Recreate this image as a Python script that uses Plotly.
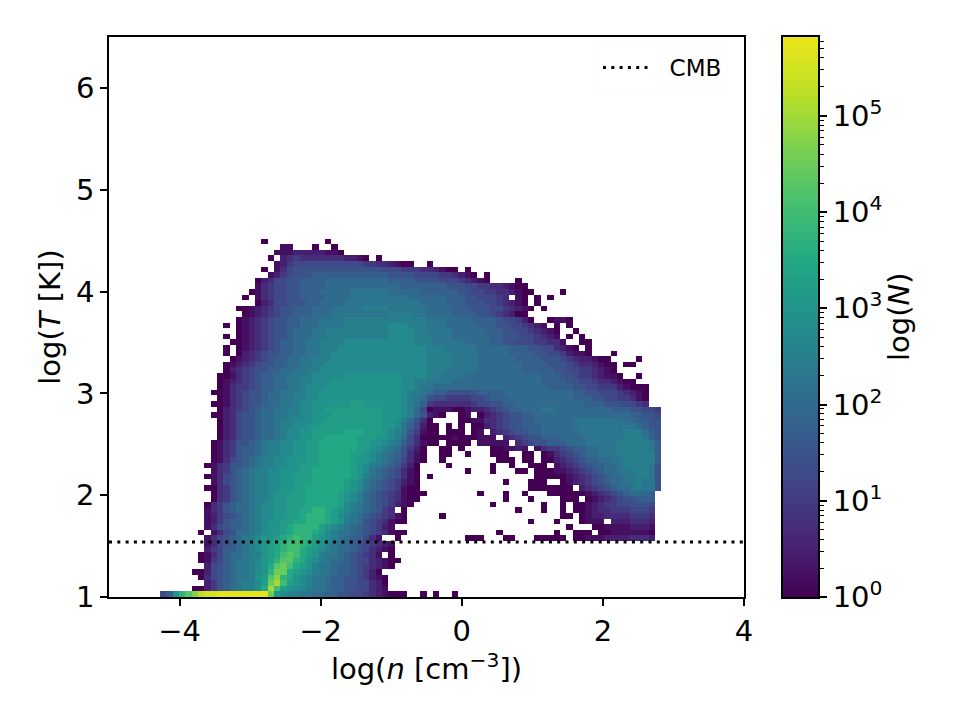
import numpy as np
import plotly.graph_objects as go

# Density-temperature histogram: 100 x 100 bins over these ranges
X_RANGE = [-5, 4]
Y_RANGE = [1, 6.5]
N_BINS = 100
CMB_LOG_T = 1.54
LOG_N_MAX = 5.82

X_TICKS = [-4, -2, 0, 2, 4]
Y_TICKS = [1, 2, 3, 4, 5, 6]
CBAR_DECADES = [0, 1, 2, 3, 4, 5]

VIRIDIS = ["#440154", "#482475", "#414487", "#355f8d", "#2a788e", "#21918c",
           "#22a884", "#44bf70", "#7ad151", "#bddf26", "#ece51b"]

# One letter per bin: log10(count) in quarter-dex steps, blank = empty bin.
# Rows run from high to low temperature, "|" splits every ten density bins.
LEVEL_CODES = "0123456789abcdefghijklmn"
LOG_COUNT_ROWS = [
    "||    0|    0",
    "||       11|  0  0",
    "||      1112|2222110",
    "||     0 234|3333333221|0 0",
    "||      1245|5555555555|44332100  |0",
    "||    0 1356|6666666666|6665554443|32100 0",
    "||     12456|6677777777|7777666655|55443210 0",
    "||   0235566|7777888888|8888777766|6655543210|    0",
    "||   1345566|7777888888|8888887777|7776665544|332100",
    "||  01345566|7778888899|9999888887|7777766554|4332100| 0",
    "|| 0 1345566|7777888899|9999999888|8887776655|543 10 0 0",
    "||   0235566|6778888999|9999999998|8887776665|543210 0",
    "||0012345667|7788899999|aaaa999999|8888777666|5543210 0",
    "|| 012345667|7788899999|9999aaaa99|8888777766|543200",
    "||0123456677|8889999aaa|aaaaaaaaaa|9998888777|7655420  0|110",
    "|        0 |0123456677|8889999aaa|aaaabbbaaa|9998888877|766554321 |0 0",
    "||0123456678|8899aaaaaa|aaaabbbbaa|9999888887|7766554321|0  0",
    "|        0 |0123456678|8899aaaaaa|aaaabbbbaa|a999888888|7766655432|1 0 0",
    "|         0|0123456778|899aaaabbb|bbbbbbbbaa|a999998888|7766555443|31  00",
    "|        0 |0123456778|899aaabbbb|bbbbbbbbbb|aaa9999988|8887776655|3210 0",
    "|        0 |0234566778|899aabbbbb|bbbbbbbbbb|aaaa999988|8887777665|542110   0",
    "|         0|1234567788|99aaabbbbb|bbbbbbbbbb|aaaa999988|8888777766|654322100 |   0",
    "|        01|2345667788|99aabbbbbb|bbbbbbbbbb|aaaa999988|8888877776|6654332100| 00",
    "|        02|3456677889|9aabbbbbbb|bbbbbbbbbb|aaa9999988|8888877777|6655443210",
    "|       001|3456778899|aabbbbbccc|ccccccbbbb|aa99998888|8888888877|7665443211|0  0",
    "|       012|3456778899|aabbbccccc|ccccccbbaa|9999888888|8888888877|7766554332|100",
    "|       013|4456778899|abbbcccccc|ccccccbba9|9888888888|8888888887|7776655444|21000",
    "|      0013|456678899a|abbccccccc|ccccccbaa9|8776666677|7788888888|8887766555|43210",
    "|       013|456678899a|abbccccccc|ccccccba98|6554444556|7778888888|8887776655|44310",
    "|      0013|456678899a|bbccccccdd|ccccccba97|4333333455|6677888888|8888877766|65543",
    "|       023|45678899aa|bbccdddddd|dddcccba85|0111001223|4567788899|8888888887|7766554",
    "|      0023|56678899aa|bbcccddddd|dddcccba86|210  01 02|3456677888|8888888888|8877665",
    "|       023|5667889aab|bbccdddddd|dddccba863|0    00113|3456677888|8889999999|9887766",
    "|       023|5667889aab|bccddddddd|dddccb9752|00 0 0 002|3456677788|8889999999|9998766",
    "|       023|5667889abb|ccdddddeee|dddcba9641|00 000 01 |2345667788|8888999999|9aaa876",
    "|       023|5667889abb|ccddeeeeed|ddccba8530|0000100011|1 23456677|7888899999|9aaa976",
    "|      0134|66789aabbc|cddeeeeeed|dccba97531|00 0000 11|111 345667|7788899999|aaaaa97",
    "|      0134|67789aabbc|cddeeeeeed|dcba986420|  00 0|001121 134|4567788999|aaaaa97",
    "|      0134|67789aabbc|cddeeeeedd|cba9876310|  00  0|000  00 01|3456788999|aaaaaa7",
    "|      0135|6789aabbcc|cddeeeeedc|cba9875310|  0| 000 00 00|2345677889|9aaaaa7",
    "|     01346|6789aabbcc|dddeeeeedc|ba9876420 |   0|0  0  000 |1234567788|9aaaa96",
    "|      1346|789aabbccc|ddeeeeeedc|b98765310 |      0|0   00 000|1123456788|99aaa96",
    "|     01356|789aabbccd|ddeeeeeedc|a98765310 |0|       000|0012345678|899aa96",
    "|      1356|789aabbccd|ddeeeeedcb|987654210 ||  0   000 | 012345678|899a996",
    "|     00346|789aabbccd|deeeeeedcb|987654100 ||      0000|000 234567|889a996",
    "|      0346|789aabccdd|deeeeedcba|8765431000|        0 |  0  0   0|0000012345|678887",
    "|      0346|789aabccdd|deeeeedcba|876543100 ||  0   0   | 000 01234|566777",
    "|     03467|889abbccdd|deeeeedba9|87654210  ||0       0 | 0 0012344|556665",
    "|     13467|889abbccdd|eeffedcba9|87643 0   ||    0   0 | 0 0012334|445554",
    "|     12456|789abbccdd|efffedba98|7654310   |  0|| 00 012233|334443",
    "|     12467|789abccdde|efffedca98|6543100   ||      0   |0   0111 2|223332",
    "|     13567|789abccdef|fffdcba987|65421     |||  0   0011|112221",
    "|    0 1356|889abccdef|ffedba9987|6543100   || 0|0  000 001|111110",
    "|     13567|89abccdefg|ffdcba9877|531  0    |      000 |  00   000|00 0011122|223332",
    "|     13567|89abcdefgg|fedca98876|54321",
    "|     24577|89abcdefgg|edcba98876|53210",
    "|    013578|89aacdeghg|edca998765|431 0",
    "|    014578|99abcdfhhf|ecba988765|532100",
    "|     25678|99abcehige|dca9987765|43210",
    "|   0025678|99abcfiied|cba9987765|420",
    "|    035678|99acdhjfec|ba99877665|4210",
    "|     24678|9aabdikgdc|ba99877665|5320",
    "|   0024678|9aabekgdcb|ba99877665|5321",
    "        57|cfhjlmmnnn|nnnnnicbaa|9988776655|4321000  0| 0  0",
]


def decode_row(row):
    cells = [None] * N_BINS
    for c, chunk in enumerate(row.split("|")):
        assert len(chunk) <= 10, row
        for k, ch in enumerate(chunk):
            if ch != " ":
                cells[c * 10 + k] = LEVEL_CODES.index(ch) * 0.25
    return cells


bottom_up = [decode_row(r) for r in reversed(LOG_COUNT_ROWS)]
z = bottom_up + [[None] * N_BINS for _ in range(N_BINS - len(bottom_up))]

dx = (X_RANGE[1] - X_RANGE[0]) / N_BINS
dy = (Y_RANGE[1] - Y_RANGE[0]) / N_BINS

W, H = 960, 720
LEFT, RIGHT, TOP, BOTTOM = 109, 744, 37, 597
CB_LEFT, CB_RIGHT = 783, 818
FONT = "DejaVu Sans"
TICK_SIZE = 29
AXIS_W = 1.67
colorscale = [[k / 10, c] for k, c in enumerate(VIRIDIS)]

fig = go.Figure()
fig.add_trace(go.Heatmap(
    z=z, x0=X_RANGE[0] + dx / 2, dx=dx, y0=Y_RANGE[0] + dy / 2, dy=dy,
    colorscale=colorscale, zmin=0, zmax=LOG_N_MAX, showscale=False,
    hoverongaps=False, showlegend=False,
))
fig.add_trace(go.Scatter(
    x=X_RANGE, y=[CMB_LOG_T, CMB_LOG_T], mode="lines",
    name="&nbsp;&nbsp;CMB",
    line=dict(color="black", width=3.1, dash="3px,5.3px"), showlegend=True,
))

# Colour bar drawn as a gradient on its own logarithmic axis
cb_log = np.linspace(0, LOG_N_MAX, 300)
fig.add_trace(go.Heatmap(
    z=[[v] for v in cb_log], x=[0], y=10 ** cb_log,
    colorscale=colorscale, zmin=0, zmax=LOG_N_MAX, showscale=False,
    xaxis="x2", yaxis="y2", hoverinfo="skip", showlegend=False,
))

minor_vals = [m * 10 ** d for d in CBAR_DECADES for m in range(2, 10)
              if np.log10(m * 10 ** d) < LOG_N_MAX]

axis_common = dict(
    showgrid=False, zeroline=False, showline=True, mirror=True,
    linecolor="black", linewidth=AXIS_W, ticks="outside", ticklen=7,
    tickwidth=AXIS_W, tickcolor="black",
    tickfont=dict(family=FONT, size=TICK_SIZE, color="black"),
)

fig.update_layout(
    width=W, height=H, margin=dict(l=0, r=0, t=0, b=0, autoexpand=False),
    paper_bgcolor="white", plot_bgcolor="white",
    font=dict(family=FONT, color="black"),
    showlegend=True,
    xaxis=dict(
        axis_common, domain=[LEFT / W, RIGHT / W], range=X_RANGE,
        tickmode="array", tickvals=X_TICKS, anchor="y",
        title=dict(text="log(<i>n</i> [cm<sup>−3</sup>])",
                   font=dict(family=FONT, size=TICK_SIZE), standoff=3),
    ),
    yaxis=dict(
        axis_common, domain=[1 - BOTTOM / H, 1 - TOP / H], range=Y_RANGE,
        tickmode="array", tickvals=Y_TICKS, anchor="x",
        title=dict(text="log(<i>T</i> [K])",
                   font=dict(family=FONT, size=TICK_SIZE), standoff=7),
    ),
    xaxis2=dict(
        axis_common, domain=[CB_LEFT / W, CB_RIGHT / W], range=[-0.5, 0.5],
        ticks="", showticklabels=False, anchor="y2",
    ),
    yaxis2=dict(
        axis_common, domain=[1 - BOTTOM / H, 1 - TOP / H], type="log",
        range=[0, LOG_N_MAX], side="right", anchor="x2",
        tickmode="array", tickvals=[10 ** d for d in CBAR_DECADES],
        ticktext=[f"10<sup>{d}</sup>" for d in CBAR_DECADES],
        minor=dict(ticks="outside", ticklen=4, tickwidth=1.25, tickcolor="black",
                   tickmode="array", tickvals=minor_vals, showgrid=False),
    ),
    legend=dict(
        x=728 / W, xanchor="right", y=1 - 45 / H, yanchor="top",
        font=dict(family=FONT, size=23, color="black"),
        bgcolor="rgba(255,255,255,0.8)", bordercolor="#fbfbfb", borderwidth=1,
        itemwidth=47,
    ),
    annotations=[dict(
        text="log(<i>N</i>)", textangle=-90, xref="paper", yref="paper",
        x=899 / W, y=1 - 317 / H, xanchor="center", yanchor="middle",
        showarrow=False,
        font=dict(family=FONT, size=TICK_SIZE, color="black"),
    )],
)

fig.write_html("out.html")
